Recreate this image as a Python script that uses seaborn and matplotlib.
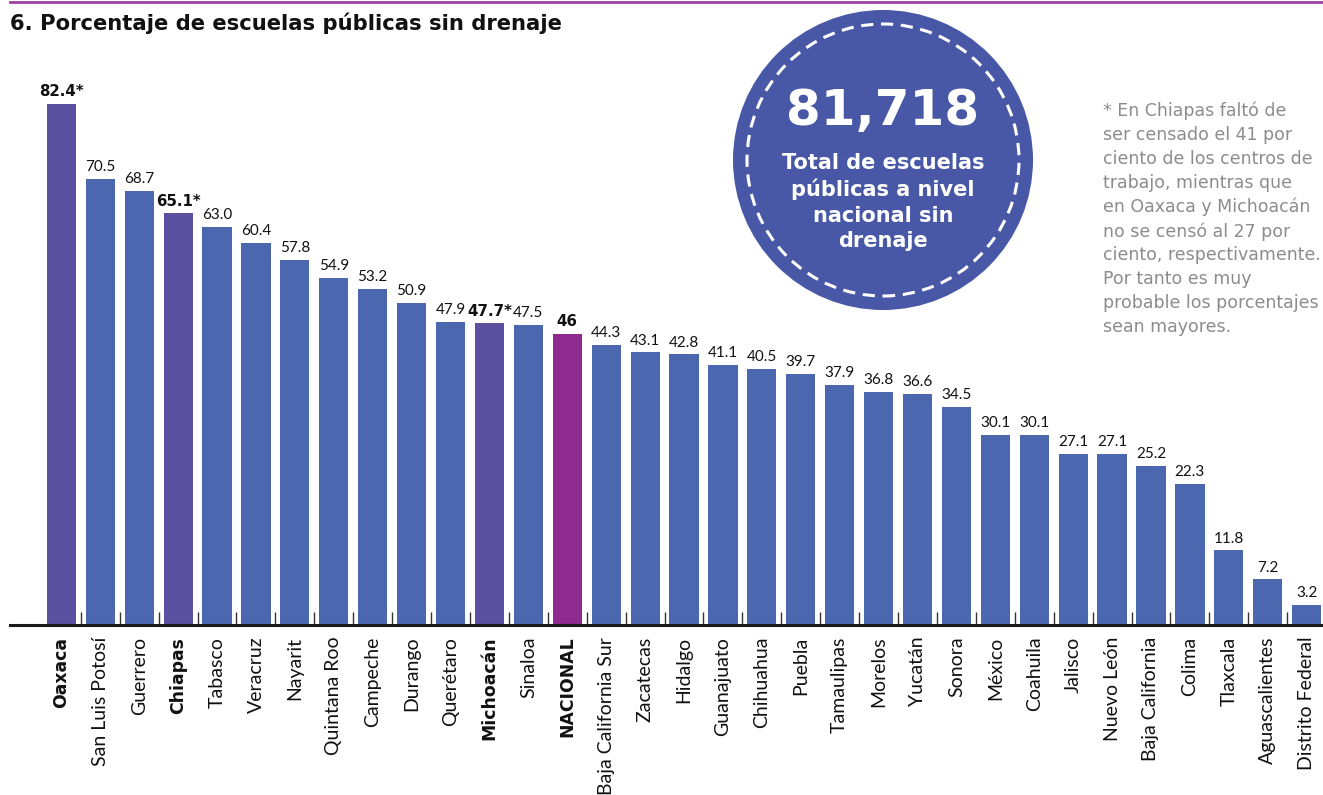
import pandas as pd
import seaborn as sns
import matplotlib.pyplot as plt
from matplotlib.patches import Ellipse
from matplotlib.lines import Line2D

# Data
estados = ['Oaxaca', 'San Luis Potosí', 'Guerrero', 'Chiapas', 'Tabasco',
           'Veracruz', 'Nayarit', 'Quintana Roo', 'Campeche', 'Durango',
           'Querétaro', 'Michoacán', 'Sinaloa', 'NACIONAL',
           'Baja California Sur', 'Zacatecas', 'Hidalgo', 'Guanajuato',
           'Chihuahua', 'Puebla', 'Tamaulipas', 'Morelos', 'Yucatán',
           'Sonora', 'México', 'Coahuila', 'Jalisco', 'Nuevo León',
           'Baja California', 'Colima', 'Tlaxcala', 'Aguascalientes',
           'Distrito Federal']
porcentajes = [82.4, 70.5, 68.7, 65.1, 63.0, 60.4, 57.8, 54.9, 53.2, 50.9,
               47.9, 47.7, 47.5, 46.0, 44.3, 43.1, 42.8, 41.1, 40.5, 39.7,
               37.9, 36.8, 36.6, 34.5, 30.1, 30.1, 27.1, 27.1, 25.2, 22.3,
               11.8, 7.2, 3.2]
etiquetas = ['82.4*', '70.5', '68.7', '65.1*', '63.0', '60.4', '57.8', '54.9',
             '53.2', '50.9', '47.9', '47.7*', '47.5', '46', '44.3', '43.1',
             '42.8', '41.1', '40.5', '39.7', '37.9', '36.8', '36.6', '34.5',
             '30.1', '30.1', '27.1', '27.1', '25.2', '22.3', '11.8', '7.2',
             '3.2']
destacados = ['Oaxaca', 'Chiapas', 'Michoacán', 'NACIONAL']
total_escuelas = '81,718'
nota = ('* En Chiapas faltó de\nser censado el 41 por\nciento de los centros de\n'
        'trabajo, mientras que\nen Oaxaca y Michoacán\nno se censó al 27 por\n'
        'ciento, respectivamente.\nPor tanto es muy\nprobable los porcentajes\n'
        'sean mayores.')

AZUL = '#4a67b0'
MORADO = '#5c51a0'
MAGENTA = '#8f2a8f'
CIRCULO = '#4858a6'

def color_de(e):
    if e == 'NACIONAL':
        return MAGENTA
    if e in destacados:
        return MORADO
    return AZUL

df = pd.DataFrame({'estado': estados, 'valor': porcentajes})
colores = [color_de(e) for e in estados]

W, H = 1323, 795
fig = plt.figure(figsize=(W / 100, H / 100), dpi=100)
ax = fig.add_axes([10 / W, (H - 625) / H, 1313 / W, 625 / H])

sns.barplot(data=df, x='estado', y='valor', hue='estado', palette=colores,
            legend=False, width=0.75, saturation=1, ax=ax)

ax.set_xlim(-1.32, 32.42)
ax.set_ylim(0, 625 / 6.323)
ax.set_xlabel('')
ax.set_ylabel('')
ax.set_yticks([])
for s in ['top', 'right', 'left']:
    ax.spines[s].set_visible(False)
ax.spines['bottom'].set_linewidth(2.2)
ax.spines['bottom'].set_color('#1a1a1a')

# small separator ticks between bars
ax.set_xticks([i + 0.5 for i in range(len(estados) - 1)], minor=True)
ax.tick_params(axis='x', which='minor', direction='in', length=9.5,
               width=1, color='#333333')
ax.tick_params(axis='x', which='major', length=0, pad=8.5)
ax.set_xticks(range(len(estados)))
ax.set_xticklabels(estados, rotation=90, va='top', ha='center',
                   fontsize=14, family='Lato', color='#111111')
for lbl in ax.get_xticklabels():
    if lbl.get_text() in destacados:
        lbl.set_fontweight('bold')
        lbl.set_family('DejaVu Sans')
        lbl.set_fontsize(12.4)

# value labels
for i, (v, t) in enumerate(zip(porcentajes, etiquetas)):
    if estados[i] in destacados:
        estilo = dict(fontsize=10.8, family='DejaVu Sans', fontweight='bold')
    else:
        estilo = dict(fontsize=11, family='Lato')
    ax.annotate(t, (i, v), xytext=(0, 3.5), textcoords='offset points',
                ha='center', va='bottom', color='#111111', **estilo)

# title and top rule
fig.add_artist(Line2D([10 / W, 1], [1 - 1.5 / H, 1 - 1.5 / H],
                      color='#a23ea4', lw=2))
fig.text(10 / W, 1 - 30 / H, '6. Porcentaje de escuelas públicas sin drenaje',
         fontsize=15.2, fontweight='bold', family='DejaVu Sans',
         va='baseline', ha='left', color='#111111')

# circle callout
cx, cy = 883 / W, 1 - 160 / H
fig.add_artist(Ellipse((cx, cy), 300 / W, 300 / H, transform=fig.transFigure,
                       facecolor=CIRCULO, edgecolor='none'))
fig.add_artist(Ellipse((cx, cy), 272 / W, 272 / H, transform=fig.transFigure,
                       facecolor='none', edgecolor='white', lw=2.2,
                       linestyle=(0, (4, 2.5))))
fig.text(cx, 1 - 111 / H, total_escuelas, fontsize=36, fontweight='bold',
         color='white', ha='center', va='center', family='DejaVu Sans')
fig.text(cx, 1 - 202 / H, 'Total de escuelas\npúblicas a nivel\nnacional sin\ndrenaje',
         fontsize=15, fontweight='bold', color='white', ha='center',
         va='center', linespacing=1.35, family='DejaVu Sans')

# footnote
fig.text(1103 / W, 1 - 102 / H, nota, fontsize=12.5, color='#8c8c8c',
         ha='left', va='top', linespacing=1.41, family='DejaVu Sans')

fig.savefig('out.png', dpi=100)
